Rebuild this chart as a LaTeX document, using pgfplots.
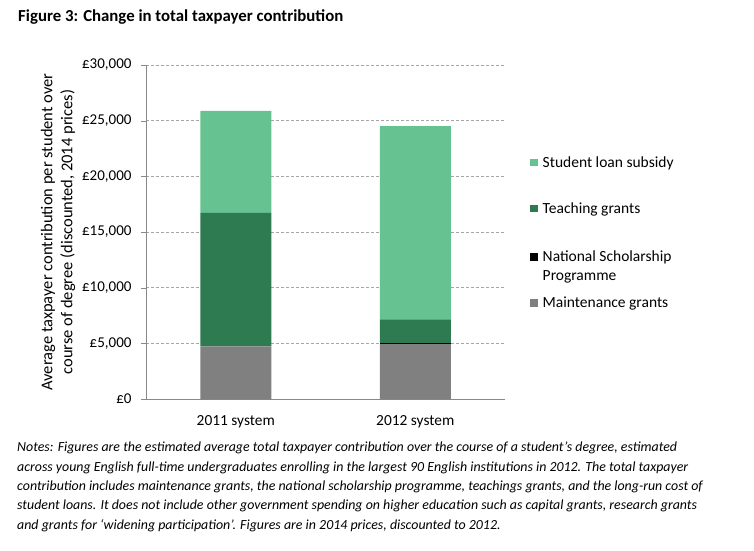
\documentclass[border=0pt]{standalone}
\usepackage{fontspec}
\setmainfont{Carlito}
\usepackage{pgfplots}
\pgfplotsset{compat=1.18}

\definecolor{loan}{HTML}{66C391}
\definecolor{teach}{HTML}{2E7B52}
\definecolor{maint}{HTML}{808080}
\definecolor{axisgray}{HTML}{888888}

\begin{document}
\begin{tikzpicture}[x=1pt,y=1pt]
\path[use as bounding box] (0,0) rectangle (754,550);

\node[anchor=west, inner sep=0pt, font=\fontsize{16.8}{19}\selectfont\bfseries] at (18,533)
  {Figure 3: Change in total taxpayer contribution};

\begin{axis}[
  at={(146pt,151pt)}, anchor=south west,
  scale only axis, width=359pt, height=334pt,
  ybar stacked, bar width=71pt,
  xmin=-0.5, xmax=1.5, ymin=0, ymax=30000,
  xtick={0,1}, xticklabels={2011 system, 2012 system},
  minor xtick={-0.5,0.5,1.5},
  ytick={0,5000,...,30000},
  scaled y ticks=false,
  yticklabel={£\pgfmathprintnumber[assume math mode=true,fixed,1000 sep={,}]{\tick}},
  axis lines*=left,
  axis line style={axisgray},
  tick align=outside,
  major tick length=5pt, minor tick length=5pt,
  x tick style={draw=none},
  minor x tick style={axisgray},
  y tick style={axisgray},
  ymajorgrids, grid style={densely dashed, gray!70},
  yticklabel style={font=\fontsize{15}{17}\selectfont, xshift=-6pt},
  xticklabel style={font=\fontsize{15.4}{17}\selectfont, yshift=-8pt},
  ylabel={Average taxpayer contribution per student over\\course of degree (discounted, 2014 prices)},
  ylabel style={align=center, font=\fontsize{16.5}{20}\selectfont},
  legend style={at={(axis description cs:1.06,0.739)}, anchor=north west,
    draw=none, font=\fontsize{15.5}{18}\selectfont, row sep=30pt,
    /tikz/every odd column/.style={column sep=3pt},
    cells={anchor=base west}},
  reverse legend,
  legend image code/.code={\fill[#1] (0pt,1pt) rectangle (8pt,8.5pt);},
]
\addplot[fill=maint, draw=none] coordinates {(0,4730) (1,4940)};
\addplot[fill=black, draw=none] coordinates {(0,0) (1,110)};
\addplot[fill=teach, draw=none] coordinates {(0,11980) (1,2106)};
\addplot[fill=loan, draw=none] coordinates {(0,9160) (1,17365)};
\legend{Maintenance grants,
  \raisebox{0pt}[\height][0pt]{\begin{tabular}[t]{@{}l@{}}National Scholarship\\[0.5pt]Programme\end{tabular}},
  Teaching grants, Student loan subsidy}
\end{axis}

\node[anchor=north west, inner sep=0pt, align=left, font=\fontsize{13.9}{19.3}\selectfont\itshape] at (17,108)
  {Notes: Figures are the estimated average total taxpayer contribution over the course of a student’s degree, estimated\\
   across young English full-time undergraduates enrolling in the largest 90 English institutions in 2012. The total taxpayer\\
   contribution includes maintenance grants, the national scholarship programme, teachings grants, and the long-run cost of\\
   student loans. It does not include other government spending on higher education such as capital grants, research grants\\
   and grants for ‘widening participation’. Figures are in 2014 prices, discounted to 2012.};
\end{tikzpicture}
\end{document}
